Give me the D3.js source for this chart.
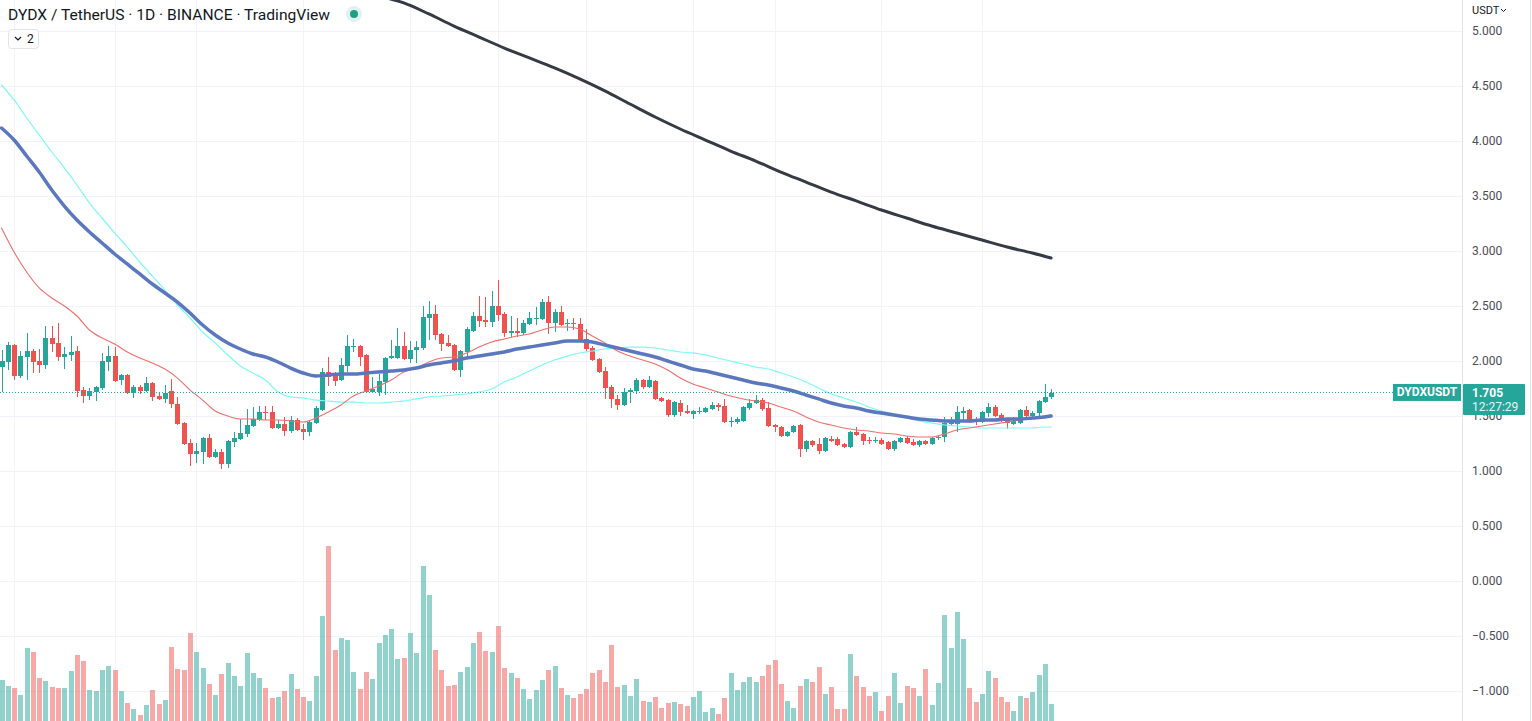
<!DOCTYPE html>
<html><head><meta charset="utf-8">
<script src="https://cdn.jsdelivr.net/npm/d3@7"></script>
<style>html,body{margin:0;padding:0;background:#fff;overflow:hidden}</style>
</head><body><svg id="c" width="1532" height="721"></svg>
<script>
// ---- data (DYDX/USDT daily) ----
const opens=[1.945,1.991,2.145,1.864,2.036,2.091,2.000,1.964,2.209,2.164,2.036,2.055,2.091,1.736,1.682,1.718,1.755,1.991,2.045,1.827,1.873,1.709,1.764,1.727,1.800,1.682,1.655,1.727,1.609,1.436,1.255,1.155,1.173,1.300,1.127,1.173,1.064,1.264,1.291,1.336,1.409,1.464,1.536,1.536,1.391,1.427,1.364,1.464,1.382,1.355,1.436,1.555,1.900,1.864,1.827,1.955,2.127,2.136,2.055,1.718,1.718,1.809,2.027,2.027,2.136,2.018,2.100,2.118,2.391,2.427,2.245,2.164,2.145,1.918,2.082,2.273,2.409,2.373,2.355,2.500,2.427,2.255,2.273,2.255,2.336,2.382,2.382,2.536,2.345,2.445,2.336,2.345,2.336,2.200,2.118,2.018,1.909,1.764,1.655,1.600,1.718,1.727,1.827,1.764,1.818,1.664,1.645,1.509,1.618,1.545,1.518,1.541,1.536,1.564,1.600,1.591,1.450,1.445,1.455,1.573,1.618,1.645,1.573,1.418,1.400,1.318,1.355,1.418,1.200,1.273,1.245,1.182,1.291,1.291,1.245,1.218,1.355,1.336,1.282,1.277,1.282,1.264,1.200,1.264,1.300,1.264,1.236,1.273,1.245,1.300,1.309,1.427,1.427,1.527,1.555,1.473,1.445,1.527,1.582,1.509,1.464,1.427,1.436,1.555,1.500,1.527,1.627,1.673];
const highs=[2.100,2.173,2.155,2.091,2.255,2.109,2.109,2.318,2.318,2.345,2.127,2.227,2.136,1.764,1.755,1.773,2.073,2.136,2.127,1.882,1.882,1.782,1.782,1.855,1.809,1.718,1.782,1.836,1.673,1.445,1.291,1.255,1.309,1.336,1.200,1.200,1.282,1.355,1.473,1.564,1.582,1.591,1.591,1.591,1.464,1.491,1.500,1.482,1.427,1.464,1.591,1.936,2.036,1.900,2.027,2.236,2.200,2.145,2.064,1.855,1.882,2.036,2.191,2.300,2.264,2.182,2.182,2.500,2.545,2.509,2.255,2.236,2.155,2.100,2.309,2.445,2.591,2.582,2.636,2.736,2.445,2.409,2.391,2.373,2.445,2.491,2.564,2.591,2.473,2.500,2.382,2.391,2.391,2.291,2.136,2.027,1.945,1.782,1.691,1.755,1.755,1.845,1.836,1.864,1.827,1.673,1.655,1.636,1.645,1.600,1.555,1.582,1.582,1.627,1.618,1.655,1.491,1.491,1.591,1.655,1.691,1.664,1.627,1.427,1.409,1.364,1.418,1.427,1.282,1.282,1.300,1.309,1.318,1.309,1.255,1.364,1.400,1.345,1.309,1.309,1.300,1.273,1.282,1.309,1.318,1.291,1.282,1.282,1.309,1.327,1.491,1.491,1.591,1.582,1.564,1.491,1.545,1.618,1.600,1.527,1.482,1.491,1.564,1.591,1.545,1.645,1.791,1.745];
const lows=[1.718,1.918,1.827,1.845,1.827,1.891,1.891,1.927,2.082,2.000,1.927,2.000,1.673,1.618,1.645,1.636,1.736,1.909,1.809,1.782,1.700,1.664,1.700,1.718,1.636,1.645,1.618,1.573,1.418,1.236,1.045,1.073,1.064,1.118,1.118,1.018,1.027,1.218,1.282,1.309,1.400,1.455,1.464,1.382,1.382,1.318,1.345,1.364,1.282,1.318,1.427,1.545,1.773,1.773,1.818,1.900,2.082,1.955,1.709,1.709,1.682,1.691,2.018,2.018,2.009,1.982,1.982,2.100,2.191,2.191,2.091,2.127,1.909,1.855,2.018,2.264,2.309,2.309,2.309,2.364,2.218,2.218,2.218,2.236,2.327,2.327,2.373,2.245,2.264,2.318,2.273,2.282,2.173,2.091,2.000,1.891,1.655,1.573,1.555,1.591,1.618,1.700,1.745,1.755,1.645,1.627,1.491,1.491,1.500,1.518,1.473,1.518,1.527,1.555,1.545,1.436,1.400,1.427,1.445,1.555,1.609,1.545,1.400,1.355,1.309,1.309,1.345,1.127,1.173,1.218,1.155,1.173,1.264,1.227,1.209,1.209,1.318,1.236,1.245,1.255,1.236,1.191,1.182,1.255,1.245,1.227,1.218,1.236,1.236,1.282,1.264,1.418,1.355,1.445,1.436,1.418,1.436,1.491,1.491,1.445,1.382,1.418,1.427,1.491,1.473,1.473,1.618,1.655];
const closes=[2.000,2.145,1.864,2.045,2.091,1.991,1.964,2.209,2.155,2.036,2.064,2.082,1.727,1.682,1.727,1.764,2.000,2.045,1.818,1.873,1.709,1.764,1.727,1.800,1.673,1.655,1.709,1.609,1.427,1.245,1.155,1.182,1.300,1.127,1.173,1.064,1.273,1.300,1.345,1.418,1.473,1.536,1.527,1.391,1.427,1.364,1.464,1.373,1.355,1.445,1.573,1.900,1.855,1.818,1.964,2.136,2.136,2.036,1.718,1.745,1.818,2.027,2.045,2.136,2.018,2.100,2.127,2.400,2.427,2.236,2.155,2.136,1.918,2.091,2.291,2.409,2.364,2.355,2.500,2.418,2.255,2.273,2.255,2.345,2.391,2.391,2.536,2.345,2.445,2.327,2.345,2.336,2.182,2.109,2.009,1.900,1.755,1.655,1.600,1.718,1.736,1.827,1.764,1.827,1.655,1.636,1.509,1.627,1.536,1.527,1.545,1.545,1.573,1.600,1.582,1.445,1.455,1.473,1.582,1.618,1.645,1.564,1.409,1.400,1.318,1.355,1.409,1.200,1.273,1.236,1.182,1.300,1.273,1.236,1.218,1.355,1.327,1.273,1.273,1.282,1.245,1.200,1.273,1.300,1.255,1.236,1.273,1.245,1.300,1.309,1.436,1.464,1.536,1.545,1.445,1.445,1.536,1.582,1.500,1.455,1.436,1.455,1.555,1.500,1.527,1.636,1.673,1.705];
// volume, millions
const volumes=[4.1,3.5,3.3,2.6,7.3,6.9,4.3,4.0,3.4,3.3,3.3,5.0,6.6,6.0,3.1,3.0,5.1,5.5,5.1,3.0,1.8,1.2,0.6,1.6,3.1,1.7,2.1,7.4,5.2,5.1,8.8,6.9,5.3,3.7,2.6,4.7,5.8,4.5,3.5,6.8,4.8,4.3,3.3,2.3,2.4,3.0,4.7,3.2,2.4,2.0,4.5,10.5,17.5,7.1,8.3,8.1,4.9,3.2,4.9,4.2,7.8,8.6,9.2,6.2,6.3,8.8,6.8,15.5,12.6,7.1,5.1,3.5,3.6,4.9,5.4,7.8,8.9,7.0,6.9,9.5,5.3,4.8,4.3,3.2,2.2,3.1,4.1,5.1,5.5,3.3,2.6,2.3,2.7,3.2,4.8,5.1,3.9,7.6,3.4,3.6,2.5,4.2,2.0,1.9,2.4,1.3,1.8,1.9,1.7,1.5,2.4,3.0,0.9,1.3,0.7,2.3,4.8,3.1,3.9,4.4,3.9,4.5,5.6,6.1,3.7,2.0,1.3,3.5,4.2,3.9,5.4,2.7,3.4,1.2,1.2,6.7,4.5,3.4,2.5,2.9,1.0,2.5,4.8,1.8,3.5,3.3,2.5,5.2,1.6,3.8,10.6,7.3,10.9,8.2,3.3,1.9,2.7,5.0,4.3,2.4,1.9,1.0,2.5,2.3,2.9,4.6,5.7,1.7];
// moving averages sampled from the chart (index = candle number)
const maIdx=[0,2,4,6,8,10,12,14,16,18,20,22,24,26,28,30,32,34,36,38,40,42,44,46,48,50,52,54,56,58,60,62,64,66,68,70,72,74,76,78,80,82,84,86,88,90,92,94,96,98,100,102,104,106,108,110,112,114,116,118,120,122,124,126,128,130,132,134,136,138,140,142,144,146,148,150,152,154,156,158,160,162,164,166,167];
const maRed=[3.209,2.991,2.809,2.664,2.573,2.500,2.409,2.282,2.209,2.155,2.082,2.027,1.982,1.927,1.845,1.736,1.645,1.545,1.500,1.473,1.473,1.464,1.464,1.455,1.445,1.482,1.536,1.600,1.682,1.727,1.773,1.827,1.900,1.936,1.991,2.027,2.036,2.073,2.127,2.173,2.200,2.227,2.245,2.282,2.309,2.309,2.291,2.227,2.164,2.091,2.045,2.009,1.973,1.918,1.845,1.791,1.755,1.718,1.682,1.655,1.636,1.618,1.582,1.545,1.491,1.445,1.418,1.391,1.373,1.364,1.345,1.336,1.318,1.309,1.309,1.336,1.373,1.391,1.409,1.427,1.445,1.464,1.482,1.500,1.509];
const maBlue=[4.118,4.009,3.864,3.718,3.555,3.409,3.282,3.173,3.073,2.973,2.882,2.791,2.700,2.618,2.536,2.436,2.327,2.236,2.164,2.109,2.064,2.036,1.991,1.936,1.891,1.864,1.873,1.882,1.882,1.891,1.900,1.909,1.918,1.936,1.964,1.982,2.000,2.027,2.045,2.064,2.082,2.109,2.127,2.145,2.164,2.182,2.182,2.173,2.145,2.118,2.091,2.064,2.036,2.000,1.964,1.927,1.909,1.882,1.855,1.827,1.800,1.782,1.755,1.727,1.691,1.655,1.618,1.591,1.573,1.545,1.527,1.509,1.491,1.473,1.464,1.455,1.455,1.455,1.464,1.464,1.473,1.473,1.482,1.491,1.500];
const maCyan=[4.509,4.373,4.209,4.055,3.900,3.755,3.600,3.436,3.300,3.164,3.036,2.900,2.773,2.645,2.509,2.391,2.264,2.164,2.055,1.955,1.891,1.827,1.718,1.673,1.664,1.645,1.636,1.627,1.627,1.618,1.618,1.627,1.636,1.655,1.673,1.682,1.691,1.700,1.718,1.745,1.809,1.855,1.909,1.964,2.009,2.045,2.073,2.091,2.109,2.118,2.127,2.127,2.118,2.100,2.082,2.073,2.055,2.027,2.000,1.973,1.945,1.927,1.891,1.855,1.809,1.755,1.700,1.664,1.627,1.582,1.545,1.518,1.482,1.455,1.436,1.418,1.409,1.400,1.391,1.391,1.391,1.391,1.391,1.400,1.400];
const maLongIdx=[60,64,68,72,76,80,84,88,92,96,100,104,108,112,116,120,124,128,132,136,140,144,148,152,156,160,164,167];
const maLong=[5.318,5.255,5.155,5.045,4.945,4.845,4.755,4.664,4.564,4.455,4.336,4.218,4.109,4.009,3.909,3.818,3.718,3.627,3.536,3.455,3.373,3.300,3.227,3.164,3.100,3.036,2.982,2.936];
const priceTicks=[-1,-0.5,0,0.5,1,1.5,2,2.5,3,3.5,4,4.5,5];
const timeGridIdx=[2,18,31,48,65,79,93,110,123,140,156];
const lastPrice=1.705, symbol="DYDXUSDT", countdown="12:27:29";
const title="DYDX / TetherUS · 1D · BINANCE · TradingView";

// ---- layout ----
const W=1532,H=721,paneW=1462;
const FONT="Roboto, 'Noto Sans', sans-serif";
const GREEN="#26a69a", RED="#ef5350";
const svg=d3.select('#c');
const x=d3.scaleLinear().domain([0,167]).range([1.5,1051.1]);
const y=d3.scaleLinear().domain([0,5]).range([581,31]);
const yv=d3.scaleLinear().domain([0,10]).range([H,H-100]);
const px=v=>Math.round(v);

svg.append('defs').append('clipPath').attr('id','pane').append('rect').attr('x',0).attr('y',0).attr('width',paneW).attr('height',H);

// grid
const grid=svg.append('g').attr('shape-rendering','crispEdges');
grid.selectAll('line.h').data(priceTicks).join('line')
  .attr('x1',0).attr('x2',paneW).attr('y1',d=>px(y(d))+0.5).attr('y2',d=>px(y(d))+0.5)
  .attr('stroke','#f0f3fa').attr('stroke-width',1);
grid.selectAll('line.v').data(timeGridIdx).join('line')
  .attr('y1',0).attr('y2',H).attr('x1',d=>px(x(d))+0.5).attr('x2',d=>px(x(d))+0.5)
  .attr('stroke','#f0f3fa').attr('stroke-width',1);

const pane=svg.append('g').attr('clip-path','url(#pane)');
const idx=d3.range(opens.length);

// volume
pane.append('g').attr('shape-rendering','crispEdges').selectAll('rect').data(idx).join('rect')
  .attr('x',i=>px(x(i))-2).attr('width',5)
  .attr('y',i=>yv(volumes[i])).attr('height',i=>H-yv(volumes[i]))
  .attr('fill',i=>closes[i]>=opens[i]?'rgba(38,166,154,0.5)':'rgba(239,83,80,0.5)');

// candles
const cg=pane.append('g').attr('shape-rendering','crispEdges');
cg.selectAll('line').data(idx).join('line')
  .attr('x1',i=>px(x(i))+0.5).attr('x2',i=>px(x(i))+0.5)
  .attr('y1',i=>y(highs[i])).attr('y2',i=>y(lows[i]))
  .attr('stroke',i=>closes[i]>=opens[i]?GREEN:RED).attr('stroke-width',1);
cg.selectAll('rect').data(idx).join('rect')
  .attr('x',i=>px(x(i))-2).attr('width',5)
  .attr('y',i=>y(Math.max(opens[i],closes[i])))
  .attr('height',i=>Math.max(1,Math.abs(y(opens[i])-y(closes[i]))))
  .attr('fill',i=>closes[i]>=opens[i]?GREEN:RED);

// moving averages
const line=d3.line().x(d=>x(d[0])).y(d=>y(d[1])).curve(d3.curveMonotoneX);
const mag=pane.append('g').attr('fill','none').attr('stroke-linejoin','round').attr('stroke-linecap','round');
mag.append('path').attr('d',line(d3.zip(maIdx,maCyan))).attr('stroke','#80f7f9').attr('stroke-width',1.2);
mag.append('path').attr('d',line(d3.zip(maIdx,maRed))).attr('stroke','#ef6f6c').attr('stroke-width',1.1);
mag.append('path').attr('d',line(d3.zip(maIdx,maBlue))).attr('stroke','#5b78bf').attr('stroke-width',3.5);
mag.append('path').attr('d',line(d3.zip(maLongIdx,maLong))).attr('stroke','#363a45').attr('stroke-width',3);

// last price dotted line
const yl=px(y(lastPrice))-0.5;
svg.append('line').attr('x1',0).attr('x2',1393).attr('y1',yl).attr('y2',yl)
  .attr('stroke',GREEN).attr('stroke-width',1).attr('stroke-dasharray','1,2');

// price axis
svg.append('line').attr('x1',paneW+0.5).attr('x2',paneW+0.5).attr('y1',0).attr('y2',H).attr('stroke','#e0e3eb');
svg.append('line').attr('x1',1530.5).attr('x2',1530.5).attr('y1',0).attr('y2',H).attr('stroke','#e0e3eb');
const fmt=d3.format('.3f');
const ax=svg.append('g').attr('transform',`translate(${paneW},0)`)
  .call(d3.axisRight(y).tickValues(priceTicks).tickFormat(fmt).tickSize(0).tickPadding(10));
ax.select('.domain').remove();
ax.selectAll('text').attr('font-family',FONT).attr('font-size',12).attr('fill','#4a4d57');
svg.append('text').attr('x',1472).attr('y',14).attr('font-family',FONT).attr('font-size',11).attr('fill','#131722').text('USDT');
svg.append('path').attr('d','M1501,9 l2.5,2.5 l2.5,-2.5').attr('fill','none').attr('stroke','#131722').attr('stroke-width',1);

// price labels
const by=y(lastPrice)-9.5;
svg.append('rect').attr('x',1393).attr('y',by).attr('width',68).attr('height',17).attr('fill',GREEN);
svg.append('text').attr('x',1427).attr('y',by+12.5).attr('text-anchor','middle').attr('font-family',FONT)
  .attr('font-size',12).attr('font-weight',700).attr('fill','#fff').text(symbol);
svg.append('rect').attr('x',1463).attr('y',by).attr('width',62).attr('height',31).attr('rx',1).attr('fill',GREEN);
svg.append('text').attr('x',1472).attr('y',by+13).attr('font-family',FONT).attr('font-size',12).attr('font-weight',700).attr('fill','#fff').text(fmt(lastPrice));
svg.append('text').attr('x',1472).attr('y',by+27).attr('font-family',FONT).attr('font-size',12).attr('fill','#e6f4f2').text(countdown);

// header
svg.append('text').attr('x',8).attr('y',20).attr('font-family',FONT).attr('font-size',15)
  .attr('textLength',322).attr('lengthAdjust','spacingAndGlyphs').attr('fill','#131722').text(title);
svg.append('circle').attr('cx',354).attr('cy',14).attr('r',8).attr('fill','#dff2ef');
svg.append('circle').attr('cx',354).attr('cy',14).attr('r',4).attr('fill','#1e9e83');
svg.append('rect').attr('x',8.5).attr('y',29.5).attr('width',30).attr('height',19).attr('rx',3).attr('fill','#fff').attr('stroke','#e0e3eb');
svg.append('path').attr('d','M15,37 l3,3 l3,-3').attr('fill','none').attr('stroke','#131722').attr('stroke-width',1.2);
svg.append('text').attr('x',27).attr('y',43).attr('font-family',FONT).attr('font-size',12).attr('fill','#131722').text('2');
</script></body></html>
